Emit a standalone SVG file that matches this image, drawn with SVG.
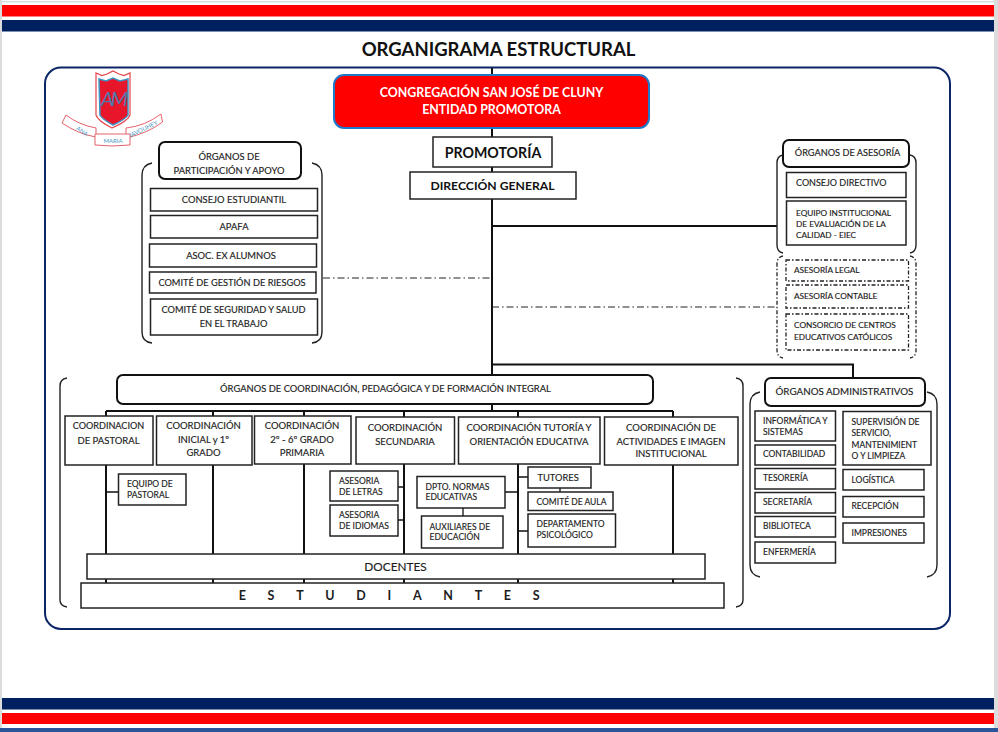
<svg xmlns="http://www.w3.org/2000/svg" width="998" height="732" viewBox="0 0 998 732">
<style>
text{font-family:Lato,"Liberation Sans",sans-serif;fill:#1c1c1c;font-size:9.400px;stroke:#1c1c1c;stroke-width:.15}
.m{text-anchor:middle}
.b{fill:#fff;stroke:#222;stroke-width:1.500}
.h{fill:#fff;stroke:#111;stroke-width:2}
.d{fill:none;stroke:#222;stroke-width:1.300;stroke-dasharray:4 2 1.500 2}
.br{fill:none;stroke:#222;stroke-width:1.400}
.c{fill:none;stroke:#111;stroke-width:2}
.dd{fill:none;stroke:#222;stroke-width:1.200;stroke-dasharray:7 3 1.500 3}
.co{font-size:9.500px}
.s{font-size:8.500px}
.a{font-size:8.250px}
.lg{font-size:6px;fill:#4d9ac6;stroke:none;text-anchor:middle}
</style>
<rect width="998" height="732" fill="#fff"/>
<g id="frame-bars">
<rect x="0" y="1" width="998" height="1.500" fill="#d5dfe6"/>
<rect x="0" y="0" width="2" height="732" fill="#dcdcdc"/>
<rect x="994" y="0" width="4" height="732" fill="#dcdcdc"/>
<rect x="2" y="5" width="992" height="11.500" fill="#ff0000"/>
<rect x="2" y="20" width="992" height="11.500" fill="#002060"/>
<rect x="2" y="698" width="992" height="11.500" fill="#002060"/>
<rect x="2" y="713" width="992" height="11" fill="#ff0000"/>
<rect x="0" y="728" width="998" height="4" fill="#2a5599"/>
</g>
<text x="498.500" y="56" class="m" style="font-size:18.500px;font-weight:700;fill:#111;stroke:none">ORGANIGRAMA ESTRUCTURAL</text>
<rect id="outer" x="45" y="67.500" width="905" height="561.500" rx="16" fill="none" stroke="#0b2566" stroke-width="2"/>
<g id="logo">
<path d="M96 73l6 2.500 5-1.500 6-3 6 3 5 1.500 6-2.500v42q-2 6-18 13q-14-7-16-13z" fill="#fff" stroke="#e5414a" stroke-width="1.200"/>
<path d="M99 79l7 2 7-3 7 3 8-2v36q-2 4-15 10q-11-6-13-10z" fill="#e8162b" stroke="#3f93c4" stroke-width="1.500"/>
<text x="113" y="106" class="m" style="font-size:20px;font-style:italic;fill:#4f78ac;stroke:none;letter-spacing:-3px">AM</text>
<path d="M62 123l4-8q13 10 30 13v9q-18-3-34-14z" fill="#fff" stroke="#e5626a" stroke-width="1"/>
<path d="M126 128q19-2 35-14l1.500 8q-14 11-36.500 16z" fill="#fff" stroke="#e5626a" stroke-width="1"/>
<path d="M95 134h35v11q-18 2-35 0z" fill="#fff" stroke="#e5626a" stroke-width="1"/>
<text x="81" y="133" class="lg" transform="rotate(35 81 133)">ANA</text>
<text x="113" y="142.500" class="lg">MARIA</text>
<text x="144" y="131" class="lg" transform="rotate(-26 144 131)">JAVOUHEY</text>
</g>
<g id="connectors">
<path class="c" d="M492 68V376M492 226H777M492 364.500H853V378M106 411H673M492 404V411"/>
<path class="c" d="M106 411V416M213 411V416M304 411V416M404 411V417M518 411V417M673 411V417"/>
<path class="c" d="M106 465V554M213 465V554M304 464V554M404 464V554M518 464V554M673 465V554"/>
<path class="c" d="M106 579V583M213 579V583M304 579V583M404 579V583M518 579V583M673 579V583"/>
<path class="c" style="stroke-width:1.300" d="M106 492H118M398 487H404M398 520H404M463 508V516M505 492H518M518 477H528M518 531H528M560 488V492"/>
<path class="dd" d="M323 278H492M492 307H777"/>
</g>
<g id="congregacion">
<rect x="334" y="75" width="315" height="53" rx="10" fill="#ff0000" stroke="#1f78c8" stroke-width="2"/>
<text x="491.500" y="96.500" class="m" style="font-size:12.400px;font-weight:700;fill:#fff;stroke:none">CONGREGACIÓN SAN JOSÉ DE CLUNY</text>
<text x="491.500" y="114" class="m" style="font-size:12.400px;font-weight:700;fill:#fff;stroke:none">ENTIDAD PROMOTORA</text>
</g>
<g id="promotoria"><rect class="b" x="433" y="137" width="119" height="30"/><text x="493" y="158" class="m" style="font-size:14.200px;font-weight:700;fill:#111;stroke:none">PROMOTORÍA</text></g>
<g id="direccion"><rect class="b" x="410" y="172" width="166" height="27"/><text x="492.500" y="190" class="m" style="font-size:12.200px;font-weight:700;fill:#111;stroke:none">DIRECCIÓN GENERAL</text></g>
<g id="participacion">
<path class="br" d="M152 163q-10 2-10 12V332q0 10 10 11M312 163q10 2 10 12V332q0 10-10 11"/>
<rect class="h" x="159" y="142" width="142" height="37" rx="6"/>
<text x="229" y="160" class="m">ÓRGANOS DE</text><text x="229" y="173.500" class="m">PARTICIPACIÓN Y APOYO</text>
<g id="consejo-estudiantil"><rect class="b" x="150.500" y="188.500" width="167" height="22.500"/><text x="234" y="203" class="m">CONSEJO ESTUDIANTIL</text></g>
<g id="apafa"><rect class="b" x="150.500" y="215.500" width="167" height="22.500"/><text x="234" y="230" class="m">APAFA</text></g>
<g id="ex-alumnos"><rect class="b" x="149.500" y="244" width="167" height="23"/><text x="231" y="259" class="m">ASOC. EX ALUMNOS</text></g>
<g id="riesgos"><rect class="b" x="149.500" y="272" width="166.500" height="21"/><text x="232" y="286" class="m" style="font-size:9.250px">COMITÉ DE GESTIÓN DE RIESGOS</text></g>
<g id="seguridad"><rect class="b" x="150.500" y="299" width="167" height="36"/><text x="233.500" y="313" class="m" style="font-size:9.250px">COMITÉ DE SEGURIDAD Y SALUD</text><text x="233.500" y="327" class="m" style="font-size:9.250px">EN EL TRABAJO</text></g>
</g>
<g id="asesoria">
<path class="br" d="M783 155q-6 1-6 8V245q0 7 6 8M910 155q6 1 6 8V245q0 7-6 8"/>
<rect class="h" x="783" y="140" width="126" height="27" rx="6"/>
<text x="847.500" y="156" class="m" style="font-size:9.200px">ÓRGANOS DE ASESORÍA</text>
<g id="consejo-directivo"><rect class="b" x="786.500" y="172.500" width="119.500" height="25"/><text x="796" y="186" style="font-size:9px">CONSEJO DIRECTIVO</text></g>
<g id="equipo-institucional"><rect class="b" x="786.500" y="201" width="119.500" height="44"/><text x="796" y="215.500" class="a">EQUIPO INSTITUCIONAL</text><text x="796" y="226.500" class="a">DE EVALUACIÓN DE LA</text><text x="796" y="238" class="a">CALIDAD - EIEC</text></g>
</g>
<g id="asesoria-externa">
<path class="d" d="M783 256q-6 1-6 8V350q0 7 6 8M910 256q6 1 6 8V350q0 7-6 8"/>
<g id="legal"><rect class="d" x="786" y="260" width="122.500" height="21"/><text x="794" y="272.500" class="a">ASESORÍA LEGAL</text></g>
<g id="contable"><rect class="d" x="786" y="285" width="122.500" height="23"/><text x="794" y="298.500" class="a">ASESORÍA CONTABLE</text></g>
<g id="consorcio"><rect class="d" x="786" y="314" width="122.500" height="36"/><text x="794" y="328" class="a">CONSORCIO DE CENTROS</text><text x="794" y="339.500" class="a">EDUCATIVOS CATÓLICOS</text></g>
</g>
<g id="coordinacion">
<path class="br" d="M67 378q-7 1-7 8V600q0 6 7 7M736 378q7 1 7 8V600q0 6-7 7"/>
<rect class="h" x="117" y="375" width="536" height="29" rx="6"/>
<text x="385.500" y="392" class="m">ÓRGANOS DE COORDINACIÓN, PEDAGÓGICA Y DE FORMACIÓN INTEGRAL</text>
<g id="pastoral"><rect class="b" x="65" y="416" width="88" height="49"/><text x="108.500" y="429" class="m" style="font-size:9.100px">COORDINACION</text><text x="108.500" y="444" class="m co">DE PASTORAL</text></g>
<g id="inicial"><rect class="b" x="156.500" y="416" width="95.500" height="49"/><text x="203.500" y="429" class="m co">COORDINACIÓN</text><text x="203.500" y="443" class="m co">INICIAL y 1º</text><text x="203.500" y="456" class="m co">GRADO</text></g>
<g id="primaria"><rect class="b" x="254.500" y="416" width="96.500" height="48"/><text x="302" y="429" class="m co">COORDINACIÓN</text><text x="302" y="443" class="m co">2º - 6º GRADO</text><text x="302" y="456" class="m co">PRIMARIA</text></g>
<g id="secundaria"><rect class="b" x="356" y="417" width="98.500" height="47"/><text x="405" y="431" class="m co">COORDINACIÓN</text><text x="405" y="444.500" class="m co">SECUNDARIA</text></g>
<g id="tutoria"><rect class="b" x="458.500" y="417" width="141.500" height="47"/><text x="529" y="431" class="m co">COORDINACIÓN TUTORÍA Y</text><text x="529" y="445" class="m co">ORIENTACIÓN EDUCATIVA</text></g>
<g id="actividades"><rect class="b" x="604.500" y="417" width="133.500" height="48"/><text x="671" y="431" class="m co">COORDINACIÓN DE</text><text x="671" y="445" class="m co">ACTIVIDADES E IMAGEN</text><text x="671" y="457" class="m co">INSTITUCIONAL</text></g>
<g id="equipo-pastoral"><rect class="b" x="118.500" y="474" width="67.500" height="31"/><text x="127" y="487" class="s">EQUIPO DE</text><text x="127" y="497.500" class="s">PASTORAL</text></g>
<g id="letras"><rect class="b" x="330" y="471" width="68" height="30"/><text x="339" y="484" class="s">ASESORIA</text><text x="339" y="494.500" class="s">DE LETRAS</text></g>
<g id="idiomas"><rect class="b" x="330" y="505" width="68" height="31"/><text x="339" y="518" class="s">ASESORIA</text><text x="339" y="528.500" class="s">DE IDIOMAS</text></g>
<g id="normas"><rect class="b" x="417" y="476.500" width="88" height="31.500"/><text x="425.500" y="489.500" class="s">DPTO.  NORMAS</text><text x="425.500" y="500" class="s">EDUCATIVAS</text></g>
<g id="auxiliares"><rect class="b" x="421.500" y="516" width="81.500" height="32"/><text x="429.500" y="529.500" class="s">AUXILIARES DE</text><text x="429.500" y="540" class="s">EDUCACIÓN</text></g>
<g id="tutores"><rect class="b" x="528" y="467" width="63" height="21"/><text x="537.500" y="481" style="font-size:9.300px">TUTORES</text></g>
<g id="comite-aula"><rect class="b" x="528" y="492" width="85" height="18.500"/><text x="536.500" y="504.500" class="s">COMITÉ DE AULA</text></g>
<g id="psicologico"><rect class="b" x="528" y="514" width="87.500" height="33"/><text x="536.500" y="527" class="s">DEPARTAMENTO</text><text x="536.500" y="538" class="s">PSICOLÓGICO</text></g>
<g id="docentes"><rect class="b" x="87" y="554" width="618" height="25"/><text x="395.500" y="571" class="m" style="font-size:11.800px">DOCENTES</text></g>
<g id="estudiantes"><rect class="b" x="81" y="583" width="643" height="25"/><text x="400" y="600" class="m" style="font-size:12.500px;font-weight:700;letter-spacing:21.700px;stroke:none">ESTUDIANTES</text></g>
</g>
<g id="administrativos">
<path class="br" d="M760 392q-10 2-10 12V565q0 10 10 12M927 392q10 2 10 12V565q0 10-10 12"/>
<rect class="h" x="765" y="378" width="160" height="28" rx="6"/>
<text x="844.500" y="394.500" class="m" style="font-size:9.800px">ÓRGANOS ADMINISTRATIVOS</text>
<g id="informatica"><rect class="b" x="755" y="411" width="80.500" height="30"/><text x="763" y="424" class="s">INFORMÁTICA Y</text><text x="763" y="435" class="s">SISTEMAS</text></g>
<g id="contabilidad"><rect class="b" x="755" y="445" width="80.500" height="20"/><text x="763" y="457" class="s">CONTABILIDAD</text></g>
<g id="tesoreria"><rect class="b" x="755" y="468.500" width="80.500" height="20.500"/><text x="763" y="481" class="s">TESORERÍA</text></g>
<g id="secretaria"><rect class="b" x="755" y="492.500" width="80.500" height="20.500"/><text x="763" y="504.500" class="s">SECRETARÍA</text></g>
<g id="biblioteca"><rect class="b" x="755" y="516.500" width="80.500" height="20.500"/><text x="763" y="528.500" class="s">BIBLIOTECA</text></g>
<g id="enfermeria"><rect class="b" x="755" y="542" width="80.500" height="21"/><text x="763" y="554.500" class="s">ENFERMERÍA</text></g>
<g id="supervision"><rect class="b" x="843" y="411.500" width="88" height="53.500"/><text x="851.500" y="425" class="s">SUPERVISIÓN DE</text><text x="851.500" y="436" class="s">SERVICIO,</text><text x="851.500" y="448" class="s">MANTENIMIENT</text><text x="851.500" y="459" class="s">O Y LIMPIEZA</text></g>
<g id="logistica"><rect class="b" x="843" y="469.500" width="81" height="20.500"/><text x="851.500" y="482.500" class="s">LOGÍSTICA</text></g>
<g id="recepcion"><rect class="b" x="843" y="496.500" width="81" height="20.500"/><text x="851.500" y="509" class="s">RECEPCIÓN</text></g>
<g id="impresiones"><rect class="b" x="843" y="523" width="81" height="20"/><text x="851.500" y="535.500" class="s">IMPRESIONES</text></g>
</g>
</svg>
